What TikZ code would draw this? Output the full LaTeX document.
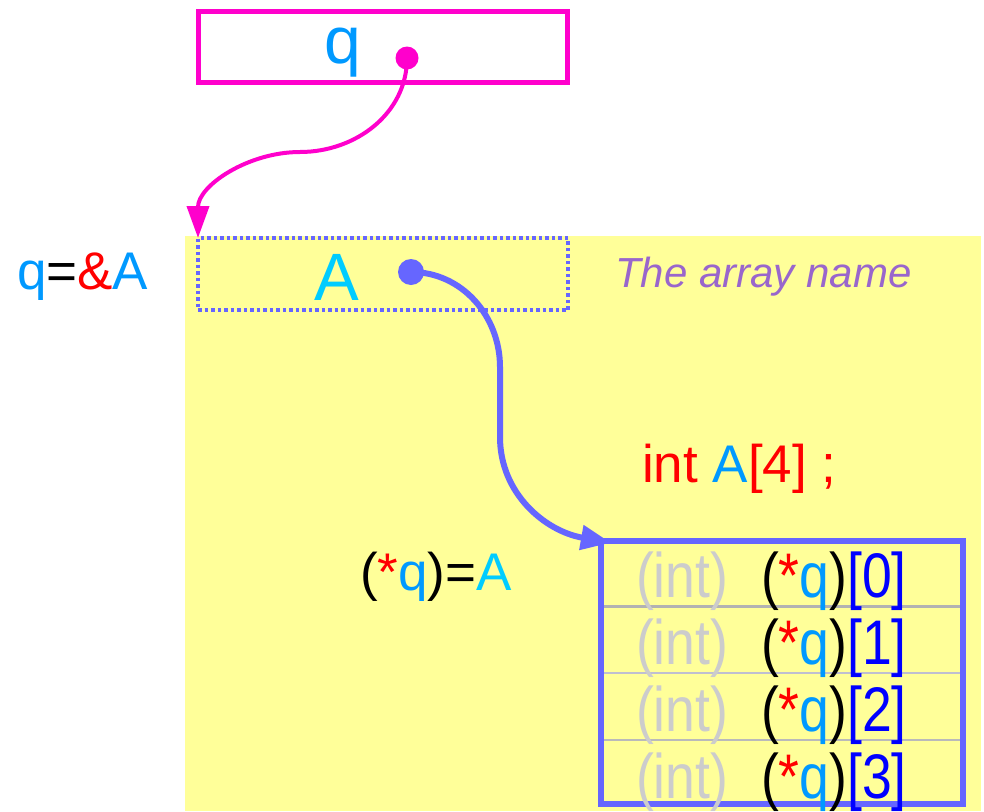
\documentclass[tikz,border=0pt]{standalone}
\usepackage{fontspec}
\setmainfont{Liberation Sans}
\usepackage{tikz}
\usetikzlibrary{arrows.meta,positioning}
\usepackage{xcolor}
\definecolor{fundo}{RGB}{255,255,153}
\definecolor{rosa}{RGB}{255,0,204}
\definecolor{azul}{RGB}{102,102,255}
\definecolor{ciano}{RGB}{0,204,255}
\definecolor{azulq}{RGB}{0,153,255}
\definecolor{roxo}{RGB}{153,102,204}
\definecolor{cinza}{RGB}{204,204,204}
\newcommand{\fs}[1]{\fontsize{#1}{#1}\selectfont}
\newcommand{\celula}[1]{\scalebox{0.85}[1]{\fs{63}#1}}

\begin{document}
\begin{tikzpicture}[x=1pt, y=-1pt, inner sep=0pt, outer sep=0pt,
        caixa/.style={draw, rectangle, minimum width=370pt, minimum height=72pt},
        ponto/.style={circle, fill, inner sep=0pt},
        linha/.style={line width=6pt, draw=azul}]
        \useasboundingbox (0,0) rectangle (984,811);
        % Fundo amarelo
        \fill[fundo] (185,236) rectangle (981,811);

        % Ponteiro q
        \node[caixa, draw=rosa, line width=5pt, minimum width=369pt, minimum height=71pt] (qbox) at (383,47) {};
        \node[anchor=base, text=azulq, font=\fs{66}] (qname) at (343,63) {q};
        \node[ponto, fill=rosa, minimum size=23pt] (qdot) at (407,58) {};

        % Nome do array
        \node[caixa, draw=azul, line width=4pt, dash pattern=on 3.5pt off 3pt] (Abox) at (383,274) {};
        \node[anchor=base, text=ciano, font=\fs{67}] (Aname) at (337,300) {A};
        \node[ponto, fill=azul, minimum size=26pt] (Adot) at (411,272) {};

        % Rotulos
        \node[anchor=base west, font=\fs{53}] (qeq) at (17,289) {\textcolor{azulq}{q}=\textcolor{red}{\&}\textcolor{azulq}{A}};
        \node[anchor=base west, text=roxo, font=\fs{42}\itshape] (nome) at (615,287) {The array name};
        \node[anchor=base west, text=red, font=\fs{53}] (decl) at (642,482) {int \textcolor{azulq}{A}[4] ;};
        \node[anchor=base west, font=\fs{53}] (deref) at (360,590) {(\textcolor{red}{*}\textcolor{azulq}{q})=\textcolor{ciano}{A}};

        % Linhas da tabela
        \node[minimum width=362pt, minimum height=65pt] (row0) at (782,573.5) {};
        \node[minimum width=362pt, minimum height=67pt] (row1) at (782,639.5) {};
        \node[minimum width=362pt, minimum height=67pt] (row2) at (782,706.5) {};
        \node[minimum width=362pt, minimum height=64pt] (row3) at (782,772) {};
        \draw[line width=3pt, draw=black!30] (row0.south west) -- (row0.south east);
        \draw[line width=1.5pt, draw=azul!40!black!30] (row1.south west) -- (row1.south east);
        \draw[line width=1.5pt, draw=black!27] (row2.south west) -- (row2.south east);
        \node[draw=azul, line width=6pt, minimum width=362pt, minimum height=263pt] (tabela) at (782,672.5) {};

        \node[anchor=base west, text=cinza] (t0) at (636,597) {\celula{(int)}};
        \node[anchor=base west, text=cinza] (t1) at (636,664) {\celula{(int)}};
        \node[anchor=base west, text=cinza] (t2) at (636,731) {\celula{(int)}};
        \node[anchor=base west, text=cinza] (t3) at (636,798) {\celula{(int)}};
        \node[anchor=base west] (e0) at (761,597) {\celula{(\textcolor{red}{*}\textcolor{azulq}{q})\textcolor{blue}{[0]}}};
        \node[anchor=base west] (e1) at (761,664) {\celula{(\textcolor{red}{*}\textcolor{azulq}{q})\textcolor{blue}{[1]}}};
        \node[anchor=base west] (e2) at (761,731) {\celula{(\textcolor{red}{*}\textcolor{azulq}{q})\textcolor{blue}{[2]}}};
        \node[anchor=base west] (e3) at (761,798) {\celula{(\textcolor{red}{*}\textcolor{azulq}{q})\textcolor{blue}{[3]}}};

        % Conexoes
        \draw[line width=4pt, draw=rosa, -{Triangle[length=32pt, width=22pt]}] (qdot.center) to[out=-90, in=0] (300,152) to[out=180, in=90] (Abox.north west);
        \draw[linha, -{Triangle[length=30pt, width=24pt]}, shorten >=-10pt] (Adot.center) to[out=0, in=90] (500,367) -- (500,437) to[out=-90, in=170] (tabela.north west);

    \end{tikzpicture}
\end{document}
